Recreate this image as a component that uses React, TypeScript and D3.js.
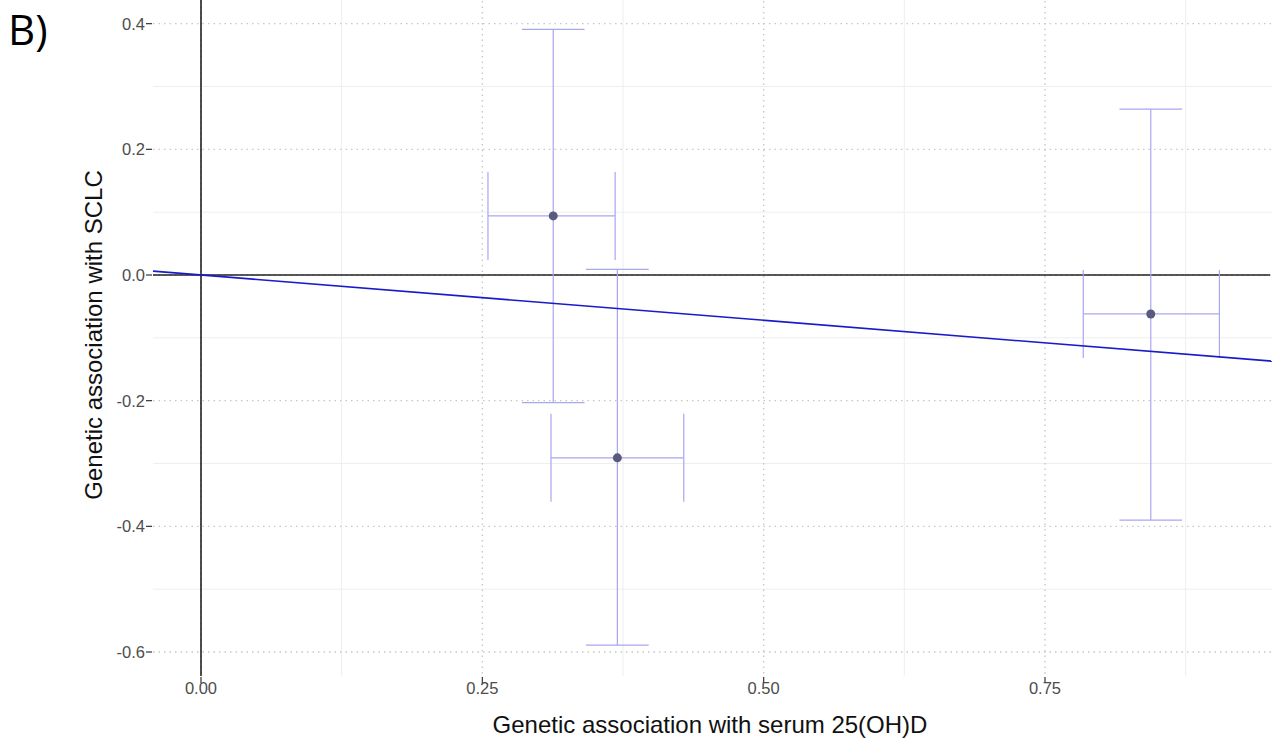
import React from "react";
import * as d3 from "d3";

const xTicks = [0, 0.25, 0.5, 0.75];
const xTickLabels = ["0.00", "0.25", "0.50", "0.75"];
const yTicks = [0.4, 0.2, 0.0, -0.2, -0.4, -0.6];
const yTickLabels = ["0.4", "0.2", "0.0", "-0.2", "-0.4", "-0.6"];
const xMinor = [0.125, 0.375, 0.625, 0.875];
const yMinor = [0.3, 0.1, -0.1, -0.3, -0.5];

const snpBx = [0.313, 0.37, 0.844];
const snpBxLo = [0.255, 0.311, 0.784];
const snpBxHi = [0.368, 0.429, 0.905];
const snpBy = [0.094, -0.291, -0.062];
const snpByLo = [-0.203, -0.589, -0.39];
const snpByHi = [0.391, 0.009, 0.264];
const ivwSlope = -0.144;

const xTitle = "Genetic association with serum 25(OH)D";
const yTitle = "Genetic association with SCLC";
const panelLabel = "B)";

export default function App() {
  const W = 1286, H = 744;
  const left = 153, right = 1272, top = -10, bottom = 676;
  const x = d3.scaleLinear().domain([0, 0.75]).range([201, 1045]);
  const y = d3.scaleLinear().domain([0, -0.6]).range([275, 652]);
  const xDom = [x.invert(left), x.invert(right)];
  const capW = 0.0265;
  const capH = 0.07;
  const barColor = "#a9a6f2";
  const font = "'Liberation Sans', Arial, sans-serif";
  const line = d3.line<[number, number]>().x(d => x(d[0])).y(d => y(d[1]));
  const regPts: [number, number][] = [xDom[0], xDom[1]].map(v => [v, v * ivwSlope]);

  return (
    <svg width={W} height={H} style={{ position: "absolute", left: 0, top: 0, background: "#fff" }}>
      {xMinor.map((v, i) => (
        <line key={"xm" + i} x1={x(v)} x2={x(v)} y1={top} y2={bottom} stroke="#eeeeee" strokeWidth={1} />
      ))}
      {yMinor.map((v, i) => (
        <line key={"ym" + i} x1={left} x2={right} y1={y(v)} y2={y(v)} stroke="#eeeeee" strokeWidth={1} />
      ))}
      {xTicks.map((v, i) => (
        <line key={"xg" + i} x1={x(v)} x2={x(v)} y1={top} y2={bottom} stroke="#c8c8c8" strokeWidth={1.4} strokeDasharray="1.5,4" />
      ))}
      {yTicks.map((v, i) => (
        <line key={"yg" + i} x1={left} x2={right} y1={y(v)} y2={y(v)} stroke="#c8c8c8" strokeWidth={1.4} strokeDasharray="1.5,4" />
      ))}
      <line x1={left} x2={right - 2} y1={y(0)} y2={y(0)} stroke="#222" strokeWidth={1.6} />
      <line x1={x(0)} x2={x(0)} y1={top} y2={bottom} stroke="#222" strokeWidth={1.6} />
      {snpBx.map((bx, i) => (
        <g key={"eb" + i} stroke={barColor} strokeWidth={1.2} fill="none">
          <line x1={x(bx)} x2={x(bx)} y1={y(snpByLo[i])} y2={y(snpByHi[i])} />
          <line x1={x(bx - capW * 1.05)} x2={x(bx + capW * 1.05)} y1={y(snpByLo[i])} y2={y(snpByLo[i])} />
          <line x1={x(bx - capW * 1.05)} x2={x(bx + capW * 1.05)} y1={y(snpByHi[i])} y2={y(snpByHi[i])} />
          <line x1={x(snpBxLo[i])} x2={x(snpBxHi[i])} y1={y(snpBy[i])} y2={y(snpBy[i])} />
          <line x1={x(snpBxLo[i])} x2={x(snpBxLo[i])} y1={y(snpBy[i] - capH)} y2={y(snpBy[i] + capH)} />
          <line x1={x(snpBxHi[i])} x2={x(snpBxHi[i])} y1={y(snpBy[i] - capH)} y2={y(snpBy[i] + capH)} />
        </g>
      ))}
      <path d={line(regPts) || ""} stroke="#1a1ac8" strokeWidth={1.6} fill="none" />
      {snpBx.map((bx, i) => (
        <circle key={"pt" + i} cx={x(bx)} cy={y(snpBy[i])} r={4.5} fill="#5a5a7e" />
      ))}
      {yTicks.map((v, i) => (
        <g key={"yt" + i}>
          <line x1={left - 7} x2={left - 1} y1={y(v)} y2={y(v)} stroke="#333" strokeWidth={1.2} />
          <text x={left - 8} y={y(v)} dy="0.36em" textAnchor="end" fontFamily={font} fontSize={16.5} fill="#4d4d4d">
            {yTickLabels[i]}
          </text>
        </g>
      ))}
      {xTicks.map((v, i) => (
        <g key={"xt" + i}>
          <line x1={x(v)} x2={x(v)} y1={bottom + 1} y2={bottom + 7} stroke="#333" strokeWidth={1.2} />
          <text x={x(v)} y={694} textAnchor="middle" fontFamily={font} fontSize={16.5} fill="#4d4d4d">
            {xTickLabels[i]}
          </text>
        </g>
      ))}
      <text x={710} y={733} textAnchor="middle" fontFamily={font} fontSize={24} fill="#111">
        {xTitle}
      </text>
      <text transform={`translate(102,335) rotate(-90)`} textAnchor="middle" fontFamily={font} fontSize={24} fill="#111">
        {yTitle}
      </text>
      <text x={8} y={45} fontFamily="'Open Sans', 'Noto Sans', sans-serif" fontSize={42} fill="#000">
        {panelLabel}
      </text>
    </svg>
  );
}
